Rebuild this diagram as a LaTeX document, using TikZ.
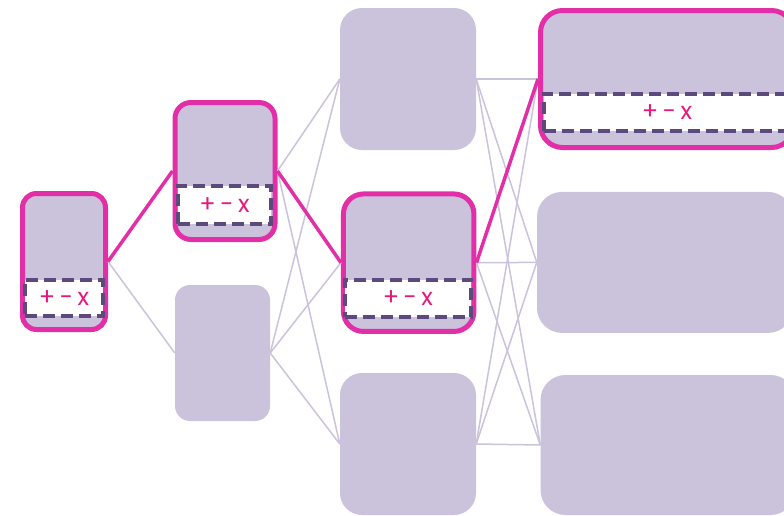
\documentclass[tikz,border=0pt]{standalone}
\usepackage{fontspec}
\newfontfamily\opfont[WordSpace=0.7]{Poppins}
\usepackage{tikz}
\definecolor{lilac}{HTML}{CBC2DC}
\definecolor{hotpink}{HTML}{E22FA8}
\definecolor{oppink}{HTML}{E6197A}
\definecolor{dashpurple}{HTML}{5C4A7D}
\tikzset{
	box/.style={rectangle, fill=lilac, inner sep=0pt},
	hlbox/.style={box, draw=hotpink, line width=5pt},
	panel/.style={rectangle, fill=white, draw=dashpurple, line width=4pt, dash pattern=on 12pt off 6pt, inner sep=0pt, text=oppink, font=\opfont\fontsize{24}{24}\selectfont},
	link/.style={draw=lilac, line width=1.5pt},
	hllink/.style={draw=hotpink, line width=3.5pt}
}

\begin{document}
\begin{tikzpicture}[x=1pt, y=-1pt]
			%%%%% START %%%%%
			\useasboundingbox (0, 0) rectangle (784, 515);
			\clip (0, 0) rectangle (784, 515);
			
			% first column
			\node[hlbox, minimum width=83pt, minimum height=136pt, rounded corners=14pt] (a) at (64, 261.5) {};
			\node[panel, minimum width=78.5pt, minimum height=36.5pt] (pa) at (64, 298) {\raisebox{-2pt}{+ - x}};
			
			% second column
			\node[hlbox, minimum width=100pt, minimum height=137pt, rounded corners=16pt] (b) at (225, 171) {};
			\node[panel, minimum width=93.5pt, minimum height=38.5pt] (pb) at (224.5, 205) {\raisebox{-2pt}{+ - x}};
			\node[box, minimum width=95pt, minimum height=136pt, rounded corners=15pt] (c) at (222.5, 353) {};
			
			% third column
			\node[box, minimum width=136pt, minimum height=142pt, rounded corners=22pt] (d) at (408, 79) {};
			\node[hlbox, minimum width=130.5pt, minimum height=137.5pt, rounded corners=20pt] (e) at (408.7, 262.7) {};
			\node[panel, minimum width=126.7pt, minimum height=37.7pt] (pe) at (407.9, 298.4) {\raisebox{-2pt}{+ - x}};
			\node[box, minimum width=136pt, minimum height=142pt, rounded corners=22pt] (f) at (408, 444) {};
			
			% fourth column
			\node[hlbox, minimum width=253pt, minimum height=137pt, rounded corners=22pt] (g) at (667, 79) {};
			\node[panel, minimum width=247pt, minimum height=37.7pt] (pg) at (667, 112.4) {\raisebox{-2pt}{+ - x}};
			\node[box, minimum width=256pt, minimum height=141pt, rounded corners=25pt] (h) at (665, 262.4) {};
			\node[box, minimum width=255pt, minimum height=140pt, rounded corners=25pt] (i) at (668, 445) {};
			
			% thin links
			\draw[link] (a.east) -- (c.west);
			\foreach \s in {b, c}
				\foreach \t in {d, e, f}
					\draw[link] (\s.east) -- (\t.west);
			\foreach \s in {d, e, f}
				\foreach \t in {g, h, i}
					\draw[link] (\s.east) -- (\t.west);
			
			% highlighted path
			\draw[hllink] (a.east) -- (b.west);
			\draw[hllink] (b.east) -- (e.west);
			\draw[hllink] (e.east) -- (g.west);
			
			%%%%% END %%%%%
\end{tikzpicture}
\end{document}
